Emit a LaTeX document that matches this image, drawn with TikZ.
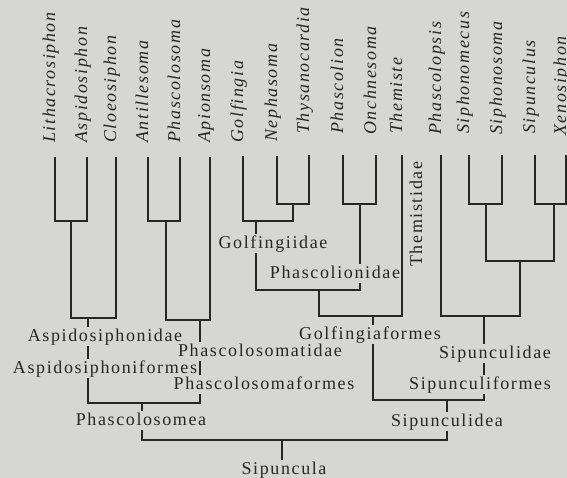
\documentclass[tikz,border=0pt]{standalone}
\usepackage{fontspec}
\setmainfont{Liberation Serif}[LetterSpace=9]
\definecolor{bg}{RGB}{214,214,212}
\definecolor{ink}{RGB}{38,38,38}
\begin{document}
\begin{tikzpicture}[x=1pt,y=-1pt,
  br/.style={draw=ink,line width=1.5pt},
  leaf/.style={rotate=90,anchor=base west,inner sep=0pt,text=ink,font=\fontsize{18}{20}\selectfont\itshape},
  fam/.style={anchor=base,inner sep=1pt,text=ink,text height=12.5pt,text depth=4pt,font=\fontsize{18}{20}\selectfont},
  famv/.style={rotate=90,anchor=base west,inner sep=0pt,text=ink,font=\fontsize{18}{20}\selectfont}]
\useasboundingbox (0,0) rectangle (567,478);
\fill[bg] (0,0) rectangle (567,478);
\clip (0,0) rectangle (567,478);
% leaf labels
\node[leaf] (nLit) at (55,143) {Lithacrosiphon};
\node[leaf] (nAsp) at (87,143) {Aspidosiphon};
\node[leaf] (nClo) at (116,143) {Cloeosiphon};
\node[leaf] (nAnt) at (148,143) {Antillesoma};
\node[leaf] (nPha) at (180,143) {Phascolosoma};
\node[leaf] (nApi) at (210,143) {Apionsoma};
\node[leaf] (nGol) at (243,143) {Golfingia};
\node[leaf] (nNep) at (277,142) {Nephasoma};
\node[leaf] (nThy) at (309,134) {Thysanocardia};
\node[leaf] (nPhn) at (343,134) {Phascolion};
\node[leaf] (nOnc) at (376,135) {Onchnesoma};
\node[leaf] (nThe) at (402,134) {Themiste};
\node[leaf] (nPsi) at (441,135) {Phascolopsis};
\node[leaf] (nSmc) at (469,134) {Siphonomecus};
\node[leaf] (nSso) at (502,135) {Siphonosoma};
\node[leaf] (nSus) at (535,134) {Sipunculus};
\node[leaf] (nXen) at (566,136) {Xenosiphon};
% leaf line tops
\coordinate (tLit) at (55,157);
\coordinate (tAsp) at (87,157);
\coordinate (tClo) at (116,157);
\coordinate (tAnt) at (148,157);
\coordinate (tPha) at (180,157);
\coordinate (tApi) at (210,157);
\coordinate (tGol) at (243,156);
\coordinate (tNep) at (277,156);
\coordinate (tThy) at (309,155);
\coordinate (tPhn) at (343,155);
\coordinate (tOnc) at (376,155);
\coordinate (tThe) at (402,155);
\coordinate (tPsi) at (441,155);
\coordinate (tSmc) at (469,155);
\coordinate (tSso) at (502,155);
\coordinate (tSus) at (535,155);
\coordinate (tXen) at (566,155);
% group labels
\node[fam] (fAspidae) at (105,341) {Aspidosiphonidae};
\node[fam] (fAspiform) at (105,373) {Aspidosiphoniformes};
\node[fam] (fPhatid) at (260,356) {Phascolosomatidae};
\node[fam] (fPhaform) at (264,389) {Phascolosomaformes};
\node[fam] (fPhmea) at (141,425) {Phascolosomea};
\node[fam] (fSip) at (284,474) {Sipuncula};
\node[fam] (fGidae) at (273,248) {Golfingiidae};
\node[fam] (fPnidae) at (335,278) {Phascolionidae};
\node[fam] (fGform) at (370,339) {Golfingiaformes};
\node[fam] (fSidae) at (495,358) {Sipunculidae};
\node[fam] (fSiform) at (480,389) {Sipunculiformes};
\node[fam] (fSidea) at (447,426) {Sipunculidea};
\node[famv] (fThe) at (422,267) {Themistidae};
% joints
\coordinate (a1) at (71,221);
\coordinate (a2) at (88,318);
\coordinate (p1) at (166,221);
\coordinate (p2) at (200,320);
\coordinate (c1) at (142,403);
\coordinate (g1) at (293,204);
\coordinate (g2) at (256,221);
\coordinate (h1) at (360,204);
\coordinate (g3) at (319,290);
\coordinate (g4) at (373,316);
\coordinate (s1) at (486,204);
\coordinate (s2) at (554,204);
\coordinate (s3) at (520,261);
\coordinate (s4) at (484,316);
\coordinate (s5) at (447,400);
\coordinate (root) at (282,440);
% Phascolosomea
\draw[br] (tLit) |- (a1) -| (tAsp);
\draw[br] (a1) |- (a2) -| (tClo);
\draw[br] (a2) -- (a2 |- fAspidae.north);
\draw[br] (fAspidae.south -| a2) -- (fAspiform.north -| a2);
\draw[br] (tAnt) |- (p1) -| (tPha);
\draw[br] (p1) |- (p2) -| (tApi);
\draw[br] (p2) -- (p2 |- fPhatid.north);
\draw[br] (fPhatid.south -| p2) -- (fPhaform.north -| p2);
\draw[br] (fAspiform.south -| a2) |- (c1) -| (fPhaform.south -| p2);
\draw[br] (c1) -- (c1 |- fPhmea.north);
% Golfingiaformes
\draw[br] (tNep) |- (g1) -| (tThy);
\draw[br] (tGol) |- (g2) -| (g1);
\draw[br] (g2) -- (g2 |- fGidae.north);
\draw[br] (tPhn) |- (h1) -| (tOnc);
\draw[br] (h1) -- (h1 |- fPnidae.north);
\draw[br] (fGidae.south -| g2) |- (g3) -| (fPnidae.south -| h1);
\draw[br] (g3) |- (g4) -| (tThe);
\draw[br] (g4) -- (g4 |- fGform.north);
% Sipunculiformes
\draw[br] (tSmc) |- (s1) -| (tSso);
\draw[br] (tSus) |- (s2) -| (tXen);
\draw[br] (s1) |- (s3) -| (s2);
\draw[br] (tPsi) |- (s4) -| (s3);
\draw[br] (s4) -- (s4 |- fSidae.north);
\draw[br] (fSidae.south -| s4) -- (fSiform.north -| s4);
% Sipunculidea and root
\draw[br] (fGform.south -| g4) |- (s5) -| (fSiform.south -| s4);
\draw[br] (s5) -- (s5 |- fSidea.north);
\draw[br] (fPhmea.south -| c1) |- (root) -| (fSidea.south -| s5);
\draw[br] (root) -- (root |- fSip.north);
\end{tikzpicture}
\end{document}
